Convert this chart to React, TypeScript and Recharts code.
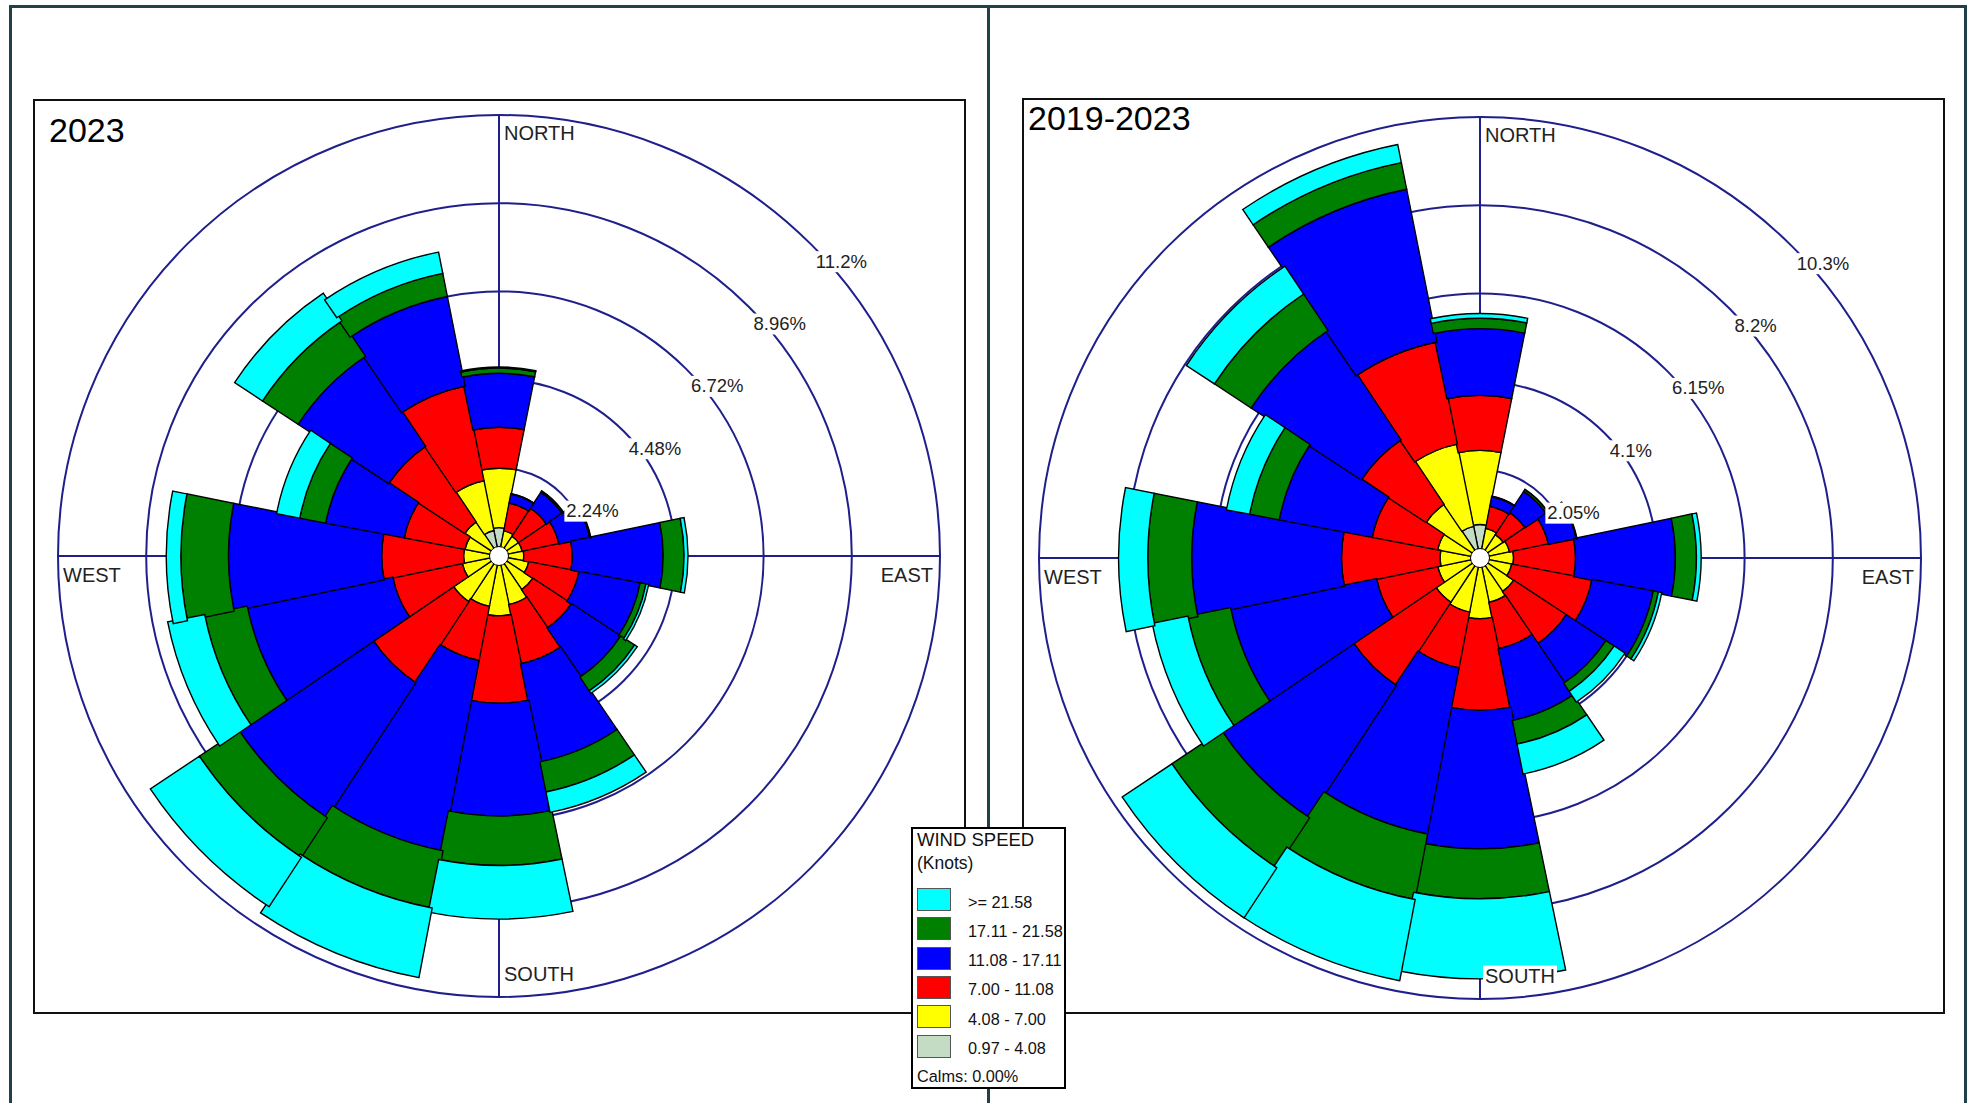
import React from 'react';
import { RadialBarChart, RadialBar, PolarAngleAxis, PolarRadiusAxis, PolarGrid } from 'recharts';

// ---------- categories / bins ----------
const DIRECTIONS = ['N', 'NNE', 'NE', 'ENE', 'E', 'ESE', 'SE', 'SSE', 'S', 'SSW', 'SW', 'WSW', 'W', 'WNW', 'NW', 'NNW'];
const BIN_KEYS = ['k1', 'k2', 'k3', 'k4', 'k5', 'k6'];
const BIN_LABELS = ['0.97 - 4.08', '4.08 - 7.00', '7.00 - 11.08', '11.08 - 17.11', '17.11 - 21.58', '>= 21.58'];
const BIN_COLORS = ['#C3DCC3', '#FFFF00', '#FF0000', '#0000FF', '#008000', '#00FFFF'];

// ---------- 2023 (% frequency per direction and speed class) ----------
const y2023_k1 = [0.72, 0.2, 0.2, 0.2, 0.2, 0.2, 0.2, 0.2, 0.2, 0.2, 0.2, 0.2, 0.2, 0.2, 0.2, 0.66];
const y2023_k2 = [1.51, 0.45, 0.4, 0.4, 0.43, 0.57, 0.83, 1.06, 1.32, 1.1, 1.19, 0.75, 0.7, 0.68, 0.84, 1.29];
const y2023_k3 = [1.04, 0.72, 0.85, 0.95, 1.23, 1.3, 1.17, 1.53, 2.22, 1.4, 2.46, 1.8, 2.08, 1.57, 2.31, 2.45];
const y2023_k4 = [1.37, 0.23, 0.48, 0.8, 2.31, 1.58, 1.5, 2.54, 2.86, 4.92, 4.1, 3.77, 3.89, 2.03, 2.75, 2.32];
const y2023_k5 = [0.13, 0.01, 0.04, 0.02, 0.53, 0.15, 0.42, 0.78, 1.26, 1.48, 1.2, 1.1, 1.21, 0.67, 1.08, 0.6];
const y2023_k6 = [0.03, 0.0, 0.01, 0.01, 0.1, 0.07, 0.08, 0.53, 1.36, 1.8, 1.5, 0.96, 0.37, 0.6, 0.85, 0.55];

// ---------- 2019-2023 ----------
const y1923_k1 = [0.78, 0.2, 0.2, 0.2, 0.2, 0.2, 0.2, 0.2, 0.2, 0.2, 0.2, 0.2, 0.2, 0.2, 0.2, 0.75];
const y1923_k2 = [1.72, 0.5, 0.45, 0.5, 0.58, 0.55, 0.74, 0.85, 1.21, 1.08, 1.03, 0.8, 0.73, 0.8, 1.3, 1.95];
const y1923_k3 = [1.28, 0.52, 0.61, 0.92, 1.44, 1.9, 1.46, 1.1, 2.13, 1.32, 2.31, 1.45, 2.29, 1.55, 1.8, 2.42];
const y1923_k4 = [1.55, 0.23, 0.59, 0.66, 2.32, 1.45, 1.1, 1.7, 3.22, 3.93, 3.68, 3.46, 3.48, 2.2, 3.06, 3.62];
const y1923_k5 = [0.24, 0.01, 0.05, 0.01, 0.49, 0.12, 0.23, 0.56, 1.16, 1.55, 1.39, 1.01, 1.02, 0.7, 1.02, 0.63];
const y1923_k6 = [0.11, 0.0, 0.01, 0.01, 0.11, 0.08, 0.3, 0.71, 1.86, 1.92, 1.39, 0.85, 0.68, 0.55, 0.78, 0.43];

// ---------- radial ticks ----------
const TICKS_2023 = [2.24, 4.48, 6.72, 8.96, 11.2];
const TICK_LABELS_2023 = ['2.24%', '4.48%', '6.72%', '8.96%', '11.2%'];
const TICKS_1923 = [2.05, 4.1, 6.15, 8.2, 10.25];
const TICK_LABELS_1923 = ['2.05%', '4.1%', '6.15%', '8.2%', '10.3%'];

const DIR_NAMES: Record<string, string> = { N: 'NORTH', E: 'EAST', S: 'SOUTH', W: 'WEST' };

function buildTable(bins: number[][]) {
  return DIRECTIONS.map((dir, i) => {
    const row: any = { dir };
    BIN_KEYS.forEach((k, j) => { row[k] = bins[j][i]; });
    return row;
  });
}

const data2023 = buildTable([y2023_k1, y2023_k2, y2023_k3, y2023_k4, y2023_k5, y2023_k6]);
const data1923 = buildTable([y1923_k1, y1923_k2, y1923_k3, y1923_k4, y1923_k5, y1923_k6]);

const FONT = '"Liberation Sans", Arial, Helvetica, sans-serif';
const GRID = '#1f1f8c';

const ADV: Record<string, number> = {
  '0': 0.556, '1': 0.556, '2': 0.556, '3': 0.556, '4': 0.556, '5': 0.556, '6': 0.556, '7': 0.556, '8': 0.556, '9': 0.556,
  '.': 0.278, '%': 0.889, N: 0.722, O: 0.778, R: 0.722, T: 0.611, H: 0.722, S: 0.667, U: 0.722, E: 0.667, A: 0.667, W: 0.944,
};
const textW = (s: string, size: number) => s.split('').reduce((a, c) => a + (ADV[c] ?? 0.6), 0) * size;

const CHART_W = 985;
const CHART_H = 1103;
const OUTER_R = 441;

function WindRose({ data, ticks, tickLabels, cx, cy }: { data: any[]; ticks: number[]; tickLabels: string[]; cx: number; cy: number }) {
  const max = ticks[ticks.length - 1];

  const dirTick = (props: any) => {
    const v = props?.payload?.value;
    const name = DIR_NAMES[v];
    if (!name) return <g />;
    const fs = 20;
    const w = textW(name, fs);
    let x = cx + 5;
    let y = cy - OUTER_R + 25;
    if (v === 'S') { y = cy + OUTER_R - 16.5; }
    if (v === 'W') { x = cx - OUTER_R + 5; y = cy + 25.5; }
    if (v === 'E') { x = cx + OUTER_R - 7 - w; y = cy + 25.5; }
    return (
      <g>
        <rect x={x - 2} y={y - 17} width={w + 4} height={21} fill="#fff" />
        <text x={x} y={y} fontSize={fs} fontFamily={FONT} fill="#222" textAnchor="start">{name}</text>
      </g>
    );
  };

  const pctTick = (props: any) => {
    const { x, y, payload } = props;
    const idx = ticks.findIndex((t) => Math.abs(t - payload.value) < 1e-6);
    if (idx < 0) return <g />;
    const label = tickLabels[idx];
    const fs = 18.5;
    const w = textW(label, fs);
    return (
      <g>
        <rect x={x + 3} y={y + 7} width={w + 4} height={21} fill="#fff" />
        <text x={x + 5} y={y + 23.5} fontSize={fs} fontFamily={FONT} fill="#222" textAnchor="start">{label}</text>
      </g>
    );
  };

  return (
    <RadialBarChart
      width={CHART_W}
      height={CHART_H}
      data={data}
      cx={cx}
      cy={cy}
      innerRadius={0}
      outerRadius={OUTER_R}
      startAngle={78.75}
      endAngle={-281.25}
      layout="centric"
      barCategoryGap={0}
      barGap={0}
      margin={{ top: 0, right: 0, bottom: 0, left: 0 }}
    >
      <PolarGrid gridType="circle" polarAngles={[90, 0, -90, 180]} stroke={GRID} strokeWidth={2} />
      {BIN_KEYS.map((k, i) => (
        <RadialBar key={k} dataKey={k} stackId="rose" fill={BIN_COLORS[i]} stroke="#000" strokeWidth={1.4} isAnimationActive={false} />
      ))}
      <PolarAngleAxis dataKey="dir" type="category" axisLine={false} tickLine={false} tick={dirTick} />
      <PolarRadiusAxis type="number" domain={[0, max]} ticks={ticks} angle={45} axisLine={false} tickLine={false} tick={pctTick} />
    </RadialBarChart>
  );
}

const FRAME = '#20404a';

export default function App() {
  const legendRows = BIN_KEYS.map((k, i) => ({ label: BIN_LABELS[i], color: BIN_COLORS[i] })).reverse();
  const hole = (cx: number, cy: number) => (
    <div style={{ position: 'absolute', left: cx - 10, top: cy - 10, width: 20, height: 20, borderRadius: '50%', background: '#fff', border: '1.5px solid #000', boxSizing: 'border-box' }} />
  );
  return (
    <div style={{ position: 'absolute', left: 0, top: 0, width: 1970, height: 1103, background: '#fff', overflow: 'hidden', fontFamily: FONT }}>
      {/* page frame */}
      <div style={{ position: 'absolute', left: 9, top: 5, width: 1958, height: 1120, border: `3px solid ${FRAME}`, boxSizing: 'border-box' }} />
      <div style={{ position: 'absolute', left: 987, top: 5, width: 3, height: 1100, background: FRAME }} />
      {/* chart boxes */}
      <div style={{ position: 'absolute', left: 33, top: 99, width: 933, height: 915, border: '2px solid #111', boxSizing: 'border-box' }} />
      <div style={{ position: 'absolute', left: 1022, top: 98, width: 923, height: 916, border: '2px solid #111', boxSizing: 'border-box' }} />

      <div style={{ position: 'absolute', left: 0, top: 0 }}>
        <WindRose data={data2023} ticks={TICKS_2023} tickLabels={TICK_LABELS_2023} cx={499} cy={556} />
      </div>
      <div style={{ position: 'absolute', left: 985, top: 0 }}>
        <WindRose data={data1923} ticks={TICKS_1923} tickLabels={TICK_LABELS_1923} cx={495} cy={558} />
      </div>
      {hole(499, 556)}
      {hole(1480, 558)}

      {/* titles */}
      <div style={{ position: 'absolute', left: 49, top: 113, fontSize: 34, lineHeight: '34px', color: '#000' }}>2023</div>
      <div style={{ position: 'absolute', left: 1028, top: 101, fontSize: 34, lineHeight: '34px', color: '#000' }}>2019-2023</div>

      {/* legend */}
      <div style={{ position: 'absolute', left: 911, top: 827, width: 155, height: 262, border: '2px solid #000', background: '#fff', boxSizing: 'border-box', fontSize: 16.3, lineHeight: '20px', color: '#111' }}>
        <div style={{ position: 'absolute', left: 4, top: 1, fontSize: 18.5, whiteSpace: 'nowrap' }}>WIND SPEED</div>
        <div style={{ position: 'absolute', left: 4, top: 24, fontSize: 17.5 }}>(Knots)</div>
        {legendRows.map((r, i) => (
          <React.Fragment key={r.label}>
            <div style={{ position: 'absolute', left: 4, top: 59 + i * 29.3, width: 34, height: 23, background: r.color, border: '1px solid #555', boxSizing: 'border-box' }} />
            <div style={{ position: 'absolute', left: 55, top: 62.5 + i * 29.3, whiteSpace: 'nowrap' }}>{r.label}</div>
          </React.Fragment>
        ))}
        <div style={{ position: 'absolute', left: 4, top: 237, whiteSpace: 'nowrap' }}>Calms: 0.00%</div>
      </div>
    </div>
  );
}
